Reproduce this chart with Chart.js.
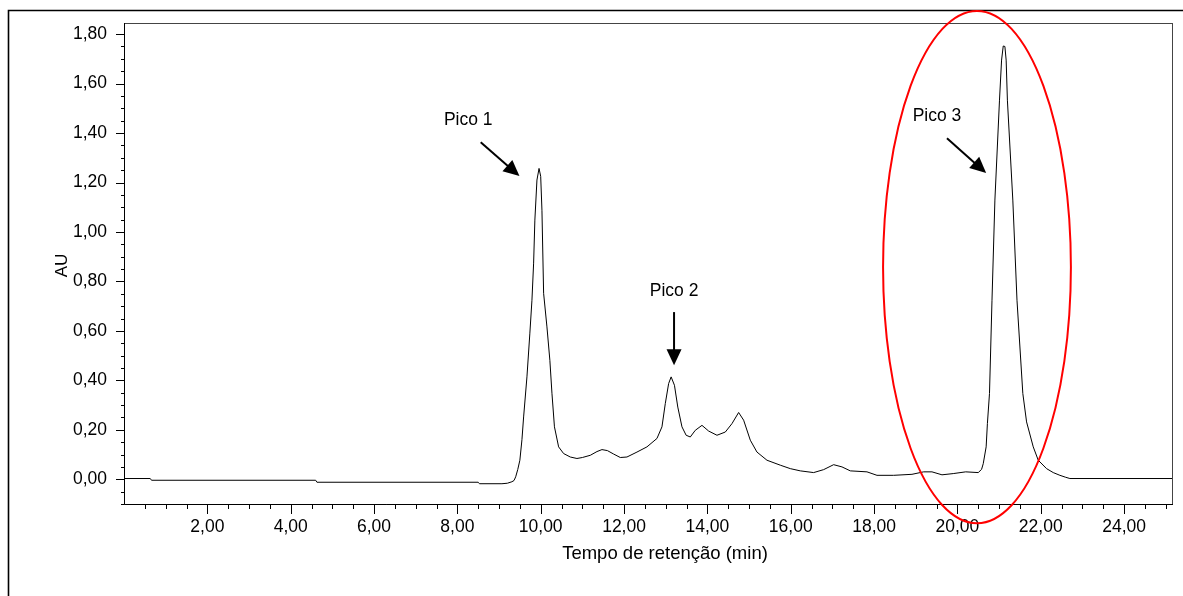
<!DOCTYPE html>
<html>
<head>
<meta charset="utf-8">
<script src="https://cdn.jsdelivr.net/npm/chart.js@4/dist/chart.umd.min.js"></script>
<style>
html,body{margin:0;padding:0;background:#fff;}
canvas{display:block;}
</style>
</head>
<body>
<canvas id="c" width="1183" height="596"></canvas>
<script>
// ---- data (retention time in min, absorbance in AU) ----
const times = [
  0, 0.63, 0.66, 4.60, 4.63, 8.50, 8.53, 9.07, 9.20, 9.31,
  9.36, 9.40, 9.45, 9.50, 9.55, 9.59, 9.67, 9.74, 9.79, 9.83, 9.86, 9.91, 9.96,
  10.00, 10.03, 10.07, 10.15, 10.22, 10.27, 10.33, 10.43, 10.55, 10.71, 10.87,
  11.00, 11.19, 11.35, 11.47, 11.60, 11.75, 11.91, 12.07, 12.31, 12.55, 12.79,
  12.91, 12.99, 13.07, 13.13, 13.21, 13.29, 13.39, 13.49, 13.59, 13.71, 13.87,
  14.03, 14.23, 14.43, 14.59, 14.75, 14.87, 15.03, 15.19, 15.43, 15.75, 15.99,
  16.23, 16.55, 16.79, 17.03, 17.23, 17.43, 17.83, 18.07, 18.47, 18.91, 19.19,
  19.39, 19.63, 19.90, 20.20, 20.50, 20.58, 20.62, 20.69, 20.72, 20.77, 20.83,
  20.90, 21.01, 21.06, 21.10, 21.14, 21.17, 21.20, 21.33, 21.43, 21.57, 21.66,
  21.82, 21.94, 22.14, 22.30, 22.46, 22.60, 22.70, 25.15
];
const absorbance = [
  0.003, 0.003, -0.004, -0.004, -0.012, -0.012, -0.018, -0.018, -0.016, -0.010,
  -0.005, 0.010, 0.040, 0.077, 0.160, 0.252, 0.414, 0.591, 0.724, 0.874, 1.048, 1.210, 1.257,
  1.225, 1.088, 0.752, 0.616, 0.481, 0.348, 0.212, 0.131, 0.104, 0.090, 0.084,
  0.088, 0.097, 0.112, 0.120, 0.116, 0.102, 0.088, 0.090, 0.110, 0.131, 0.165,
  0.212, 0.306, 0.387, 0.414, 0.380, 0.292, 0.212, 0.178, 0.171, 0.198, 0.218,
  0.195, 0.178, 0.191, 0.225, 0.270, 0.239, 0.158, 0.110, 0.077, 0.057, 0.043,
  0.034, 0.027, 0.039, 0.059, 0.050, 0.034, 0.030, 0.016, 0.016, 0.020, 0.030,
  0.030, 0.018, 0.023, 0.030, 0.027, 0.040, 0.063, 0.131, 0.225, 0.347, 0.724,
  1.129, 1.533, 1.695, 1.752, 1.750, 1.695, 1.533, 1.129, 0.724, 0.347, 0.232,
  0.131, 0.077, 0.043, 0.027, 0.016, 0.008, 0.003, 0.003
];
const xTickValues = [2, 4, 6, 8, 10, 12, 14, 16, 18, 20, 22, 24];
const yTickValues = [0, 0.2, 0.4, 0.6, 0.8, 1.0, 1.2, 1.4, 1.6, 1.8];
const xAxisTitle = 'Tempo de retenção (min)';
const yAxisTitle = 'AU';
const peakNames = ['Pico 1', 'Pico 2', 'Pico 3'];

// annotation anchors in data units (label centre, arrow start, arrow tip)
const annotations = [
  { label: peakNames[0], text: [8.26, 1.452], from: [8.56, 1.363], to: [9.49, 1.226] },
  { label: peakNames[1], text: [13.20, 0.761], from: [13.20, 0.676], to: [13.20, 0.461] },
  { label: peakNames[2], text: [19.51, 1.470], from: [19.75, 1.379], to: [20.69, 1.238] }
];
const highlight = { cx: 20.47, cy: 0.858, rx: 2.254, ry: 1.036 };

const FONT = "'Liberation Sans', Arial, Helvetica, sans-serif";
const fmt = v => v.toFixed(2).replace('.', ',');

const points = times.map((t, i) => ({ x: t, y: absorbance[i] }));

const decor = {
  id: 'decor',
  afterDraw(chart) {
    const ctx = chart.ctx;
    const a = chart.chartArea;
    const xs = chart.scales.x, ys = chart.scales.y;
    ctx.save();
    // outer frame
    ctx.strokeStyle = '#000';
    ctx.lineWidth = 1.6;
    ctx.beginPath();
    ctx.moveTo(8.5, 700); ctx.lineTo(8.5, 10.5); ctx.lineTo(1300, 10.5);
    ctx.stroke();
    // plot box
    ctx.lineWidth = 1;
    ctx.strokeStyle = '#444';
    ctx.strokeRect(Math.round(a.left) + 0.5, Math.round(a.top) + 0.5, Math.round(a.right - a.left), Math.round(a.bottom - a.top));
    ctx.strokeStyle = '#000';
    ctx.beginPath();
    ctx.moveTo(Math.round(a.left) + 0.5, Math.round(a.top));
    ctx.lineTo(Math.round(a.left) + 0.5, Math.round(a.bottom) + 0.5);
    ctx.lineTo(Math.round(a.right) + 1, Math.round(a.bottom) + 0.5);
    ctx.stroke();
    // y ticks (major every 0.2, minor every 0.05)
    ctx.beginPath();
    for (let k = -2; k <= 36; k++) {
      const v = k * 0.05;
      const py = Math.round(ys.getPixelForValue(v)) + 0.5;
      const major = (k % 4 === 0);
      const len = major ? 8 : 3;
      ctx.moveTo(Math.round(a.left), py);
      ctx.lineTo(Math.round(a.left) - len, py);
    }
    // x ticks (major every 2, minor every 0.5)
    for (let k = 1; k <= 50; k++) {
      const v = k * 0.5;
      const px = Math.round(xs.getPixelForValue(v)) + 0.5;
      const major = (k % 4 === 0);
      const len = major ? 9 : 4;
      ctx.moveTo(px, Math.round(a.bottom) + 1);
      ctx.lineTo(px, Math.round(a.bottom) + 1 + len);
    }
    ctx.stroke();
    // axis titles
    ctx.fillStyle = '#000';
    ctx.font = '18.5px ' + FONT;
    ctx.textAlign = 'center';
    ctx.textBaseline = 'middle';
    ctx.fillText(xAxisTitle, (a.left + a.right) / 2 + 17, 554);
    ctx.save();
    ctx.translate(62, (a.top + a.bottom) / 2 + 2);
    ctx.rotate(-Math.PI / 2);
    ctx.font = '17px ' + FONT;
    ctx.fillText(yAxisTitle, 0, 0);
    ctx.restore();
    // peak annotations
    ctx.font = '17.5px ' + FONT;
    annotations.forEach(an => {
      const tx = xs.getPixelForValue(an.text[0]), ty = ys.getPixelForValue(an.text[1]);
      ctx.fillText(an.label, tx, ty);
      const x1 = xs.getPixelForValue(an.from[0]), y1 = ys.getPixelForValue(an.from[1]);
      const x2 = xs.getPixelForValue(an.to[0]), y2 = ys.getPixelForValue(an.to[1]);
      const ang = Math.atan2(y2 - y1, x2 - x1);
      const L = 16, W = 7.5;
      const c = Math.cos(ang), s = Math.sin(ang);
      ctx.lineWidth = 2;
      ctx.beginPath();
      ctx.moveTo(x1, y1);
      ctx.lineTo(x2 - L * 0.7 * c, y2 - L * 0.7 * s);
      ctx.stroke();
      ctx.beginPath();
      ctx.moveTo(x2, y2);
      ctx.lineTo(x2 - L * c + W * s, y2 - L * s - W * c);
      ctx.lineTo(x2 - L * c - W * s, y2 - L * s + W * c);
      ctx.closePath();
      ctx.fill();
    });
    // red highlight ellipse
    const cx = xs.getPixelForValue(highlight.cx), cy = ys.getPixelForValue(highlight.cy);
    const rx = Math.abs(xs.getPixelForValue(highlight.cx + highlight.rx) - cx);
    const ry = Math.abs(ys.getPixelForValue(highlight.cy + highlight.ry) - cy);
    ctx.strokeStyle = '#ff0000';
    ctx.lineWidth = 2;
    ctx.beginPath();
    ctx.ellipse(cx, cy, rx, ry, 0, 0, Math.PI * 2);
    ctx.stroke();
    ctx.restore();
  }
};

new Chart(document.getElementById('c').getContext('2d'), {
  type: 'scatter',
  data: {
    datasets: [{
      data: points,
      showLine: true,
      borderColor: '#000',
      borderWidth: 1,
      pointRadius: 0,
      tension: 0,
      fill: false
    }]
  },
  options: {
    responsive: false,
    animation: false,
    events: [],
    layout: { padding: { left: 0, top: 23, right: 11, bottom: 0 } },
    plugins: { legend: { display: false }, tooltip: { enabled: false } },
    scales: {
      x: {
        type: 'linear', min: 0, max: 25.15,
        grid: { display: false }, border: { display: false },
        ticks: { color: '#000', font: { family: FONT, size: 17.5 }, padding: 5, maxRotation: 0, autoSkip: false,
                 callback: v => fmt(v) },
        afterBuildTicks: s => { s.ticks = xTickValues.map(v => ({ value: v })); },
        afterFit: s => { s.height = 92; }
      },
      y: {
        type: 'linear', min: -0.1, max: 1.845,
        grid: { display: false }, border: { display: false },
        ticks: { color: '#000', font: { family: FONT, size: 17.5 }, padding: 9, autoSkip: false,
                 callback: v => fmt(v) },
        afterBuildTicks: s => { s.ticks = yTickValues.map(v => ({ value: v })); },
        afterFit: s => { s.width = 124; }
      }
    }
  },
  plugins: [decor]
});
</script>
</body>
</html>
